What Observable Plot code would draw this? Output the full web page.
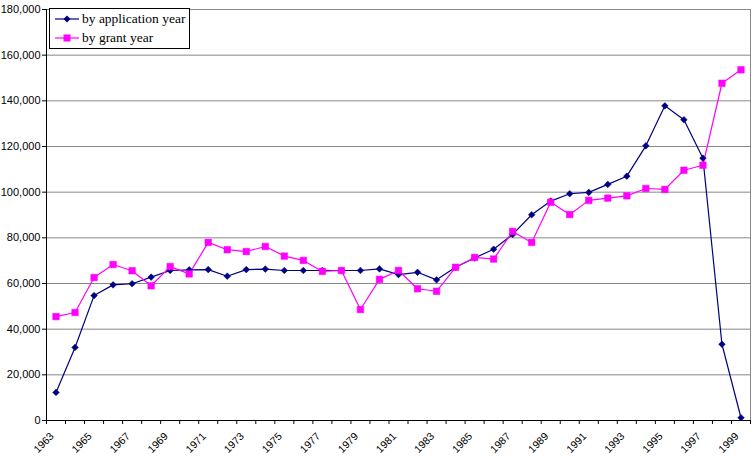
<!DOCTYPE html>
<html>
<head>
<meta charset="utf-8">
<script src="https://cdn.jsdelivr.net/npm/d3@7"></script>
<script src="https://cdn.jsdelivr.net/npm/@observablehq/plot@0.6"></script>
<style>
  html, body { margin: 0; padding: 0; background: #fff; }
  #wrap { position: relative; width: 754px; height: 456px; }
  #legend { position: absolute; left: 49px; top: 8px; width: 141px; height: 41px; border: 1px solid #000; background: #fff;
    font-family: "Liberation Serif", "Times New Roman", serif; font-size: 13.5px; color: #000; box-sizing: border-box; }
  .item { position: absolute; left: 4px; height: 20px; display: flex; align-items: center; }
  .item svg { margin-right: 2px; }
</style>
</head>
<body>
<div id="wrap"></div>
<script>
const years = d3.range(1963, 2000);
const seriesNames = ["by application year", "by grant year"];
const byApplication = [12300, 32000, 54700, 59400, 59900, 62800, 65700, 66000, 66100, 63200,
  66100, 66300, 65700, 65700, 65700, 65700, 65700, 66400, 63900, 64900,
  61600, 67100, 71200, 75000, 81500, 90100, 96100, 99300, 99900, 103400,
  107000, 120300, 137800, 131700, 114900, 33400, 1200];
const byGrant = [45500, 47300, 62600, 68300, 65600, 59000, 67400, 64200, 78000, 74800,
  74000, 76200, 72000, 70100, 65300, 65700, 48600, 61800, 65700, 57700,
  56600, 67100, 71400, 70700, 82800, 78000, 95600, 90200, 96400, 97400,
  98400, 101600, 101200, 109600, 111800, 147700, 153600];
const yTicks = d3.range(0, 180001, 20000);
const labelYears = years.filter((y, i) => i % 2 === 0);
const colors = ["#000080", "#FF00FF"];

const appData = years.map((y, i) => ({year: y, value: byApplication[i]}));
const grantData = years.map((y, i) => ({year: y, value: byGrant[i]}));
const boundaries = d3.range(1962.5, 2000, 1);

const chart = Plot.plot({
  width: 754, height: 456,
  marginLeft: 46, marginRight: 4, marginTop: 9, marginBottom: 36,
  style: {fontFamily: "'Liberation Sans', Arial, sans-serif", fontSize: "11px", background: "#fff", color: "#000"},
  x: {type: "linear", domain: [1962.5, 1999.5]},
  y: {domain: [0, 180000]},
  marks: [
    Plot.ruleY(yTicks.slice(1), {stroke: "#888", strokeWidth: 1, strokeOpacity: 1}),
    Plot.ruleX([1999.5], {stroke: "#888", strokeWidth: 1}),
    Plot.axisY({ticks: yTicks, tickFormat: d3.format(","), tickSize: 4, tickPadding: 2, label: null, fontSize: 11}),
    Plot.axisX({ticks: boundaries, tickFormat: () => "", tickSize: 4, label: null}),
    Plot.text(labelYears, {x: d => d, frameAnchor: "bottom", text: d => String(d), rotate: -45, textAnchor: "end", lineAnchor: "middle", dx: -4, dy: 14, fontSize: 10.5}),
    Plot.ruleX([1962.5], {stroke: "#000", strokeWidth: 1}),
    Plot.ruleY([0], {stroke: "#000", strokeWidth: 1}),
    Plot.line(appData, {x: "year", y: "value", stroke: colors[0], strokeWidth: 1.2}),
    Plot.line(grantData, {x: "year", y: "value", stroke: colors[1], strokeWidth: 1.2}),
    Plot.dot(appData, {x: "year", y: "value", symbol: "diamond2", fill: colors[0], stroke: colors[0], strokeWidth: 0.5, r: 3}),
    Plot.dot(grantData, {x: "year", y: "value", symbol: "square", fill: colors[1], stroke: colors[1], strokeWidth: 0.5, r: 3.7})
  ]
});

const wrap = document.getElementById("wrap");
wrap.appendChild(chart);

const legend = document.createElement("div");
legend.id = "legend";
const markers = [
  '<svg width="26" height="10"><line x1="1" y1="5" x2="25" y2="5" stroke="' + colors[0] + '" stroke-width="1.2"/><path d="M13,1.5L16.5,5L13,8.5L9.5,5Z" fill="' + colors[0] + '"/></svg>',
  '<svg width="26" height="10"><line x1="1" y1="5" x2="25" y2="5" stroke="' + colors[1] + '" stroke-width="1.2"/><rect x="9.5" y="1.5" width="7" height="7" fill="' + colors[1] + '"/></svg>'
];
seriesNames.forEach((name, i) => {
  const it = document.createElement("div");
  it.className = "item";
  it.style.top = (i * 19) + "px";
  it.innerHTML = markers[i] + '<span>' + name + '</span>';
  legend.appendChild(it);
});
wrap.appendChild(legend);
</script>
</body>
</html>
